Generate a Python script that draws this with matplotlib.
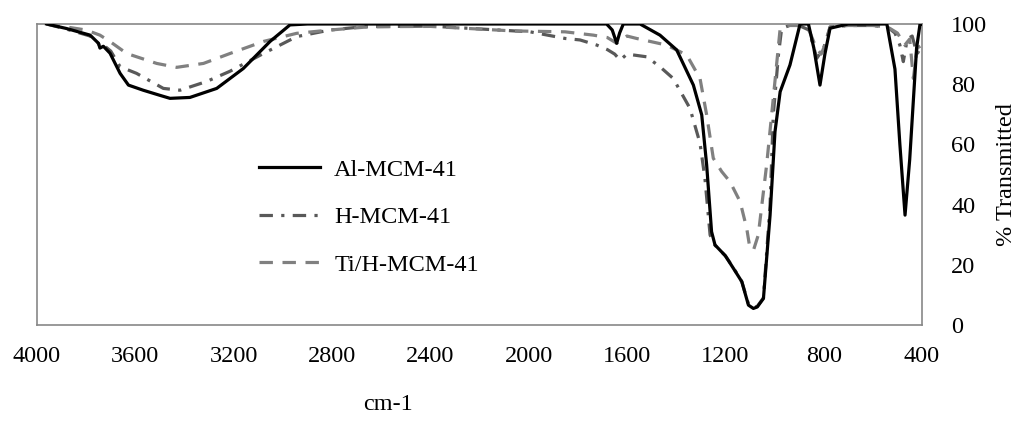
import matplotlib
matplotlib.use("Agg")
import matplotlib.pyplot as plt

plt.rcParams["font.family"] = ["Liberation Serif", "DejaVu Serif"]

# wavenumber (cm-1) and % transmitted
al_x = [3961, 3880, 3784, 3750, 3744, 3730, 3703, 3662, 3628, 3568, 3500, 3459,
        3378, 3269, 3161, 3052, 2971, 2900, 2400, 1700, 1683, 1660, 1642, 1630,
        1615, 1547, 1466, 1398, 1330, 1296, 1276, 1256, 1242, 1200, 1167, 1133,
        1106, 1086, 1070, 1045, 1018, 998, 977, 937, 896, 862, 840, 815, 795,
        774, 700, 600, 543, 510, 490, 469, 450, 422, 408, 400]
al_y = [100, 98.5, 96.3, 93.6, 92, 92.6, 90.3, 83.6, 79.7, 78, 76.3, 75.3,
        75.6, 78.6, 85.2, 94.2, 99.7, 100, 100, 100, 100, 98, 93.6, 97,
        100, 100, 96.3, 91.4, 79.7, 69.8, 53.2, 31, 26.6, 23, 18.8, 14.4,
        6.6, 5.5, 6, 8.8, 36.5, 64.2, 77.5, 86.4, 100, 100, 92, 79.7, 90,
        98.6, 100, 100, 100, 85, 60, 36.5, 55, 92, 100, 100]

h_x = [3961, 3880, 3784, 3750, 3744, 3730, 3700, 3662, 3595, 3486, 3418, 3310,
       3215, 3079, 2944, 2808, 2673, 2400, 1994, 1852, 1791, 1723, 1680, 1650,
       1628, 1600, 1520, 1466, 1412, 1344, 1303, 1283, 1262, 1242, 1200, 1167,
       1133, 1106, 1086, 1070, 1045, 1018, 1005, 984, 971, 940, 900, 860, 828,
       800, 774, 700, 600, 540, 510, 490, 476, 460, 440, 420, 400]
h_y = [100, 98.3, 96, 93.5, 92.5, 93, 91, 85.8, 83.6, 78.6, 78, 80.9,
       84.3, 90.2, 95.8, 98, 99.1, 99.3, 97.4, 95.2, 94.7, 93, 91.5, 90,
       88, 90, 89.1, 85.8, 81.9, 72, 60.4, 48.7, 29.9, 26.5, 23, 19,
       14.4, 7, 5.8, 6.2, 9, 40, 69.8, 89.7, 98.5, 99.5, 99.5, 98, 88.6,
       92, 99, 99.5, 99.5, 99, 97, 93, 87.5, 95, 96, 90, 93]

ti_x = [3961, 3880, 3800, 3744, 3700, 3635, 3513, 3432, 3323, 3215, 3079, 2944,
        2808, 2645, 2400, 2064, 1852, 1737, 1680, 1642, 1600, 1561, 1439, 1357,
        1303, 1276, 1249, 1215, 1181, 1140, 1113, 1100, 1085, 1066, 1032, 1005,
        977, 940, 900, 860, 830, 810, 790, 774, 700, 600, 540, 500, 470, 450,
        435, 420, 400]
ti_y = [100, 99, 98, 96.3, 94, 90.2, 86.9, 85.6, 86.9, 90.2, 94.2, 96.9,
        98, 99.1, 99.2, 97.7, 97.4, 96.3, 95.5, 93.6, 96, 95.2, 93, 89.7,
        81.9, 69.8, 55.4, 51, 47.6, 41, 32.1, 25.5, 25, 29.9, 53.2, 75.3,
        98.5, 99.5, 99.5, 98, 92, 90, 94, 99, 99.5, 99.5, 99, 97, 93, 95,
        81.9, 92, 93]

x_ticks = [4000, 3600, 3200, 2800, 2400, 2000, 1600, 1200, 800, 400]
y_ticks = [0, 20, 40, 60, 80, 100]

fs = 17.5

fig = plt.figure(figsize=(10.19, 4.32), dpi=100)
ax = fig.add_axes([37 / 1019, 1 - 325 / 432, 885 / 1019, 301 / 432])

ax.plot(al_x, al_y, color="black", lw=2.3, label="Al-MCM-41", zorder=3)
ax.plot(h_x, h_y, color="#595959", lw=2.3, linestyle=(0, (4.2, 2.6, 1, 2.6)),
        label="H-MCM-41", zorder=2)
ax.plot(ti_x, ti_y, color="#808080", lw=2.3, linestyle=(0, (4.2, 3)),
        label="Ti/H-MCM-41", zorder=2)

ax.set_xlim(4000, 400)
ax.set_ylim(0, 100)
ax.set_xticks(x_ticks)
ax.set_yticks(y_ticks)
ax.yaxis.tick_right()
ax.yaxis.set_label_position("right")
ax.tick_params(axis="both", length=0, labelsize=fs)
ax.tick_params(axis="x", pad=15)
ax.tick_params(axis="y", pad=21)
for s in ax.spines.values():
    s.set_color("#878787")
    s.set_linewidth(1.2)

ax.set_ylabel("% Transmitted", fontsize=fs, labelpad=6)
fig.text(388 / 1019, 1 - 405 / 432, "cm-1", fontsize=fs, ha="center", va="center")

ax.legend(loc="upper left", bbox_to_anchor=(0.226, 0.625), frameon=False,
          fontsize=fs, handlelength=2.5, handletextpad=0.6, labelspacing=1.05)

fig.savefig("out.png", dpi=100)
